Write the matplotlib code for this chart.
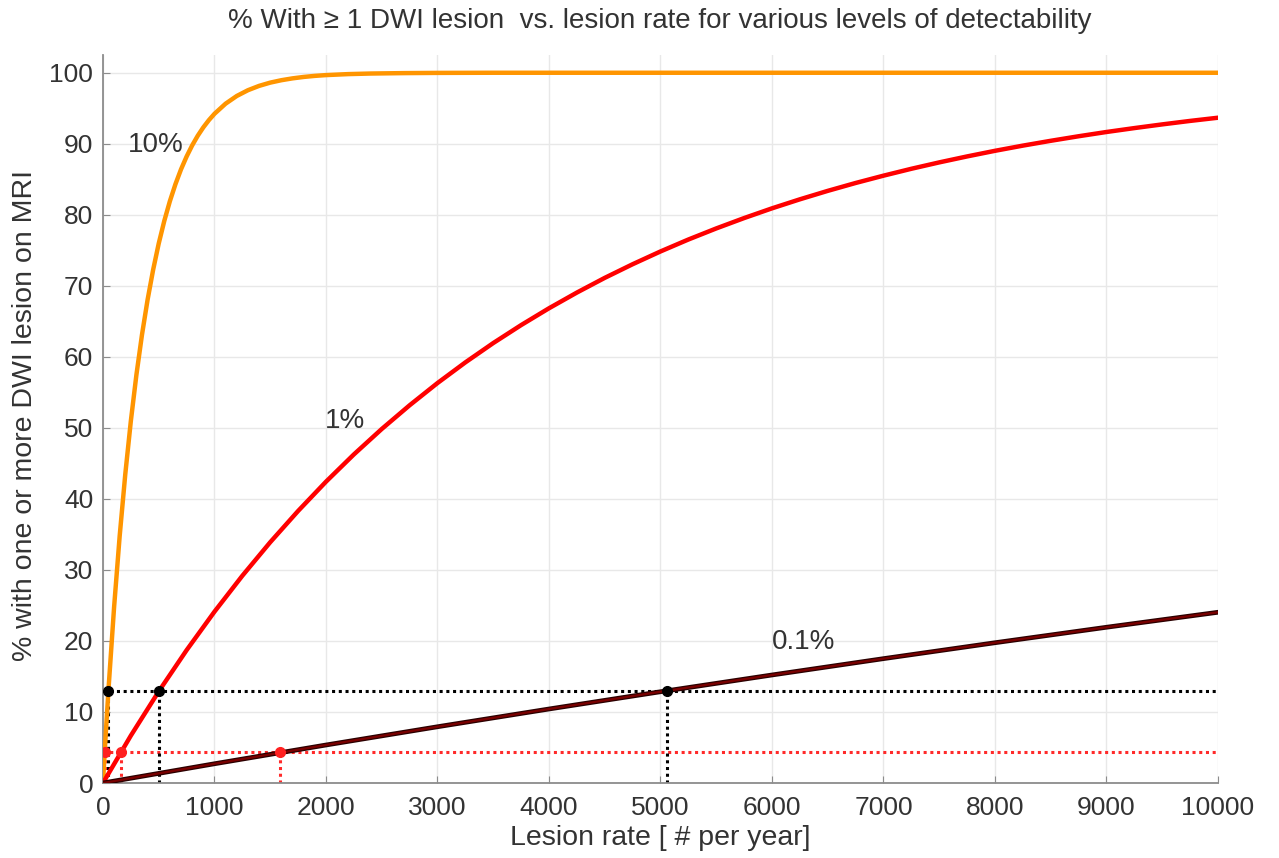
import matplotlib
matplotlib.use("Agg")
import matplotlib.pyplot as plt

plt.rcParams['font.family'] = ['Liberation Sans', 'DejaVu Sans']

# detectability 10 %
rate_10 = [0, 25, 50, 100, 150, 200, 250, 300, 350, 400, 450, 500, 550, 600, 650,
           700, 750, 800, 850, 900, 950, 1000, 1100, 1200, 1300, 1400, 1500, 1600,
           1700, 1800, 1900, 2000, 2200, 2400, 2700, 3000, 3500, 5000, 7500, 10000]
pct_10 = [0, 6.88, 13.28, 24.80, 34.79, 43.45, 50.96, 57.47, 63.12, 68.02, 72.26,
          75.95, 79.14, 81.91, 84.31, 86.40, 88.20, 89.77, 91.13, 92.31, 93.33,
          94.22, 95.65, 96.73, 97.54, 98.15, 98.61, 98.95, 99.21, 99.41, 99.56,
          99.67, 99.81, 99.89, 99.95, 99.98, 100, 100, 100, 100]

# detectability 1 %
rate_1 = list(range(0, 10001, 250))
pct_1 = [0, 6.67, 12.89, 18.70, 24.12, 29.18, 33.90, 38.30, 42.42, 46.26, 49.84,
         53.18, 56.31, 59.22, 61.94, 64.47, 66.84, 69.05, 71.12, 73.04, 74.84,
         76.52, 78.08, 79.54, 80.91, 82.18, 83.37, 84.48, 85.51, 86.48, 87.38,
         88.22, 89.01, 89.74, 90.42, 91.06, 91.66, 92.21, 92.73, 93.22, 93.67]

# detectability 0.1 %
rate_01 = [0, 1000, 2000, 3000, 4000, 5000, 6000, 7000, 8000, 9000, 10000]
pct_01 = [0, 2.71, 5.35, 7.92, 10.42, 12.85, 15.21, 17.51, 19.75, 21.93, 24.04]

# reference levels and the rates where each curve crosses them
black_level = 13.0
black_x = [48, 505, 5060]
red_level = 4.3
red_x = [15, 158, 1590]

x_max = 10000
txt = '#333333'

fig = plt.figure(figsize=(12.79, 8.58), dpi=100)
ax = fig.add_axes([0.0805, 0.0874, 0.8718, 0.8485])

ax.grid(True, color='#e8e8e8', linewidth=1.0)
ax.set_axisbelow(True)

# dotted guide lines
dot = (0, (1, 1.2))
ax.plot([0, x_max], [black_level, black_level], color='black', lw=2.2, ls=dot, zorder=2)
ax.plot([0, x_max], [red_level, red_level], color='#ff2a2a', lw=2.2, ls=dot, zorder=2)
for xv in black_x:
    ax.plot([xv, xv], [0, black_level], color='black', lw=2.2, ls=dot, zorder=2)
for xv in red_x:
    ax.plot([xv, xv], [0, red_level], color='#ff2a2a', lw=2.2, ls=dot, zorder=2)

# curves
ax.plot(rate_10, pct_10, color='#ff9500', lw=3.2, zorder=3, solid_joinstyle='round')
ax.plot(rate_1, pct_1, color='#ff0000', lw=3.2, zorder=3, solid_joinstyle='round')
ax.plot(rate_01, pct_01, color='#2a0000', lw=3.4, zorder=3)
ax.plot(rate_01, pct_01, color='#7a0000', lw=1.6, zorder=3)

ax.plot(black_x, [black_level] * len(black_x), 'o', color='black', ms=7, zorder=4)
ax.plot(red_x, [red_level] * len(red_x), 'o', color='#ff2020', ms=7, zorder=4)

ax.text(225, 89.8, '10%', fontsize=20, color=txt, va='center', ha='left')
ax.text(1990, 50.9, '1%', fontsize=20, color=txt, va='center', ha='left')
ax.text(6000, 19.9, '0.1%', fontsize=20, color=txt, va='center', ha='left')

ax.set_xlim(0, x_max)
ax.set_ylim(0, 102.5)
ax.set_xticks(range(0, 10001, 1000))
ax.set_yticks(range(0, 101, 10))

for side in ['top', 'right']:
    ax.spines[side].set_visible(False)
for side in ['left', 'bottom']:
    ax.spines[side].set_color('#8c8c8c')
    ax.spines[side].set_linewidth(1.3)
ax.tick_params(direction='in', length=5, color='#8c8c8c', labelsize=19,
               labelcolor=txt)
ax.tick_params(axis='x', pad=9)
ax.tick_params(axis='y', pad=7)

ax.set_xlabel('Lesion rate [ # per year]', fontsize=20.5, color=txt)
ax.xaxis.set_label_coords(0.5, -0.058)
ax.set_ylabel('% with one or more DWI lesion on MRI', fontsize=20.5, color=txt)
ax.yaxis.set_label_coords(-0.058, 0.505)

fig.text(0.516, 0.976, '% With \u2265 1 DWI lesion  vs. lesion rate for various levels of detectability',
         fontsize=20, color=txt, ha='center', va='center')

fig.savefig('out.png', dpi=100)
